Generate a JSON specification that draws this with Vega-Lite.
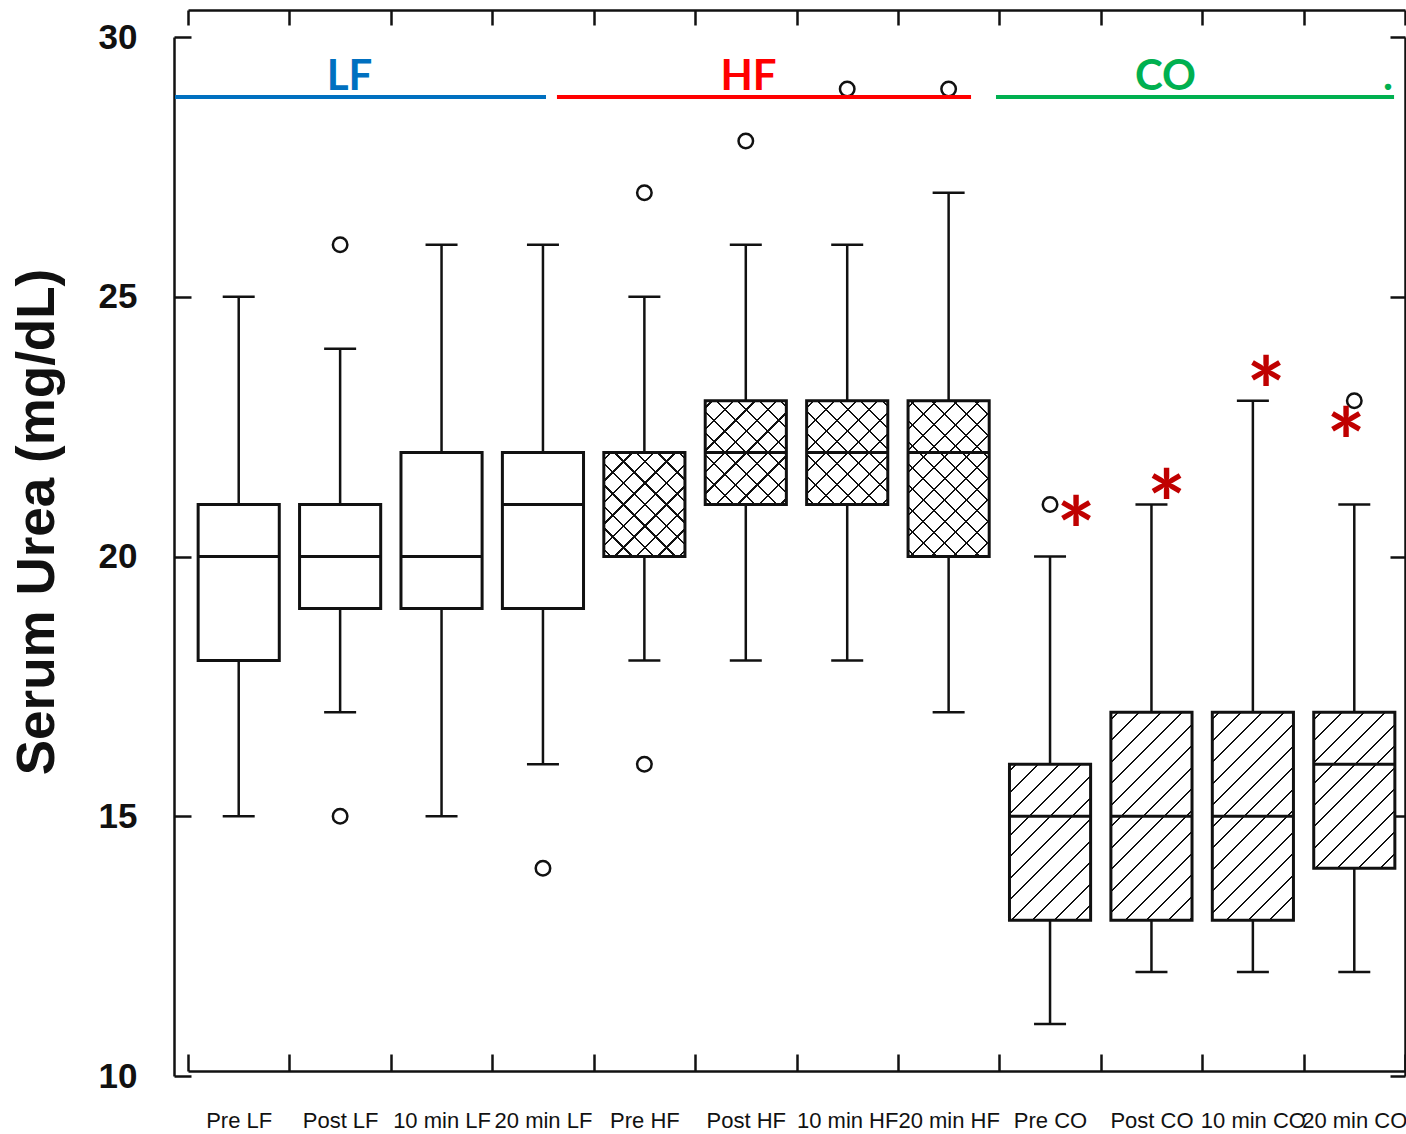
{
  "$schema": "https://vega.github.io/schema/vega-lite/v6.json",
  "width": 1217,
  "height": 1039,
  "autosize": "none",
  "padding": {"left": 188, "top": 37, "right": 1, "bottom": 58},
  "background": "white",
  "config": {
    "view": {"stroke": null},
    "axis": {
      "grid": false,
      "domainColor": "#111111",
      "tickColor": "#111111",
      "domainWidth": 2.5,
      "tickWidth": 2.5,
      "labelFont": "Liberation Sans",
      "titleFont": "Liberation Sans"
    }
  },
  "datasets": {
    "boxes": [
      {"cond": "Pre LF", "set": "LF", "low": 15, "q1": 18, "median": 20, "q3": 21, "high": 25},
      {"cond": "Post LF", "set": "LF", "low": 17, "q1": 19, "median": 20, "q3": 21, "high": 24},
      {"cond": "10 min LF", "set": "LF", "low": 15, "q1": 19, "median": 20, "q3": 22, "high": 26},
      {"cond": "20 min LF", "set": "LF", "low": 16, "q1": 19, "median": 21, "q3": 22, "high": 26},
      {"cond": "Pre HF", "set": "HF", "low": 18, "q1": 20, "median": 22, "q3": 22, "high": 25},
      {"cond": "Post HF", "set": "HF", "low": 18, "q1": 21, "median": 22, "q3": 23, "high": 26},
      {"cond": "10 min HF", "set": "HF", "low": 18, "q1": 21, "median": 22, "q3": 23, "high": 26},
      {"cond": "20 min HF", "set": "HF", "low": 17, "q1": 20, "median": 22, "q3": 23, "high": 27},
      {"cond": "Pre CO", "set": "CO", "low": 11, "q1": 13, "median": 15, "q3": 16, "high": 20},
      {"cond": "Post CO", "set": "CO", "low": 12, "q1": 13, "median": 15, "q3": 17, "high": 21},
      {"cond": "10 min CO", "set": "CO", "low": 12, "q1": 13, "median": 15, "q3": 17, "high": 23},
      {"cond": "20 min CO", "set": "CO", "low": 12, "q1": 14, "median": 16, "q3": 17, "high": 21}
    ],
    "outliers": [
      {"cond": "Post LF", "value": 26},
      {"cond": "Post LF", "value": 15},
      {"cond": "20 min LF", "value": 14},
      {"cond": "Pre HF", "value": 27},
      {"cond": "Pre HF", "value": 16},
      {"cond": "Post HF", "value": 28},
      {"cond": "10 min HF", "value": 29},
      {"cond": "20 min HF", "value": 29},
      {"cond": "Pre CO", "value": 21},
      {"cond": "20 min CO", "value": 23}
    ],
    "spans": [
      {"set": "LF", "from": -0.128, "to": 3.53, "at": 28.845},
      {"set": "HF", "from": 3.638, "to": 7.721, "at": 28.845},
      {"set": "CO", "from": 7.967, "to": 11.892, "at": 28.845}
    ],
    "tags": [
      {"set": "LF", "text": "LF", "pos": 1.592, "at": 28.98},
      {"set": "HF", "text": "HF", "pos": 5.527, "at": 28.98},
      {"set": "CO", "text": "CO", "pos": 9.638, "at": 28.98},
      {"set": "CO", "text": ".", "pos": 11.832, "at": 28.98}
    ],
    "stars": [
      {"cond": "Pre CO", "sig": "*", "pos": 8.756, "at": 20.862},
      {"cond": "Post CO", "sig": "*", "pos": 9.65, "at": 21.382},
      {"cond": "10 min CO", "sig": "*", "pos": 10.629, "at": 23.542},
      {"cond": "20 min CO", "sig": "*", "pos": 11.418, "at": 22.57}
    ]
  },
  "layer": [
    {
      "encoding": {
        "x": {
          "field": "cond", "type": "nominal", "sort": null,
          "scale": {"domain": ["Pre LF", "Post LF", "10 min LF", "20 min LF", "Pre HF", "Post HF", "10 min HF", "20 min HF", "Pre CO", "Post CO", "10 min CO", "20 min CO"], "paddingInner": 0, "paddingOuter": 0},
          "axis": null
        }
      },
      "layer": [
        {
          "data": {"name": "boxes"},
          "mark": {"type": "rule", "color": "#111111", "strokeWidth": 2.5, "opacity": 1},
          "encoding": {
            "x": {
              "field": "cond", "type": "nominal", "sort": null,
              "scale": {"domain": ["Pre LF", "Post LF", "10 min LF", "20 min LF", "Pre HF", "Post HF", "10 min HF", "20 min HF", "Pre CO", "Post CO", "10 min CO", "20 min CO"], "paddingInner": 0, "paddingOuter": 0},
              "axis": {
                "orient": "bottom", "offset": -5, "tickBand": "extent", "tickSize": -17,
                "labelPadding": 56, "labelFontSize": 22, "labelColor": "#111111", "labelAngle": 0,
                "labelOverlap": false, "labelBound": false, "labelLimit": 0, "title": null
              }
            },
            "y": {
              "field": "low", "type": "quantitative",
              "scale": {"domain": [10, 30], "nice": false, "zero": false},
              "axis": {
                "orient": "left", "offset": 14, "values": [10, 15, 20, 25, 30], "tickSize": -17,
                "labelPadding": 54, "labelFontSize": 35, "labelFontWeight": "bold", "labelColor": "#111111",
                "labelBaseline": "middle",
                "title": "Serum Urea (mg/dL)", "titleFontSize": 53, "titleFontWeight": "bold", "titleColor": "#111111",
                "titleAngle": -90, "titleAlign": "center", "titleBaseline": "bottom",
                "titleX": -110, "titleY": 484.5
              }
            },
            "y2": {"field": "high"}
          }
        },
        {
          "data": {"name": "boxes"},
          "mark": {"type": "bar", "width": {"band": 0.8}, "fill": "white", "strokeWidth": 0, "opacity": 1},
          "encoding": {
            "y": {"field": "q1", "type": "quantitative", "axis": null},
            "y2": {"field": "q3"}
          }
        },
        {
          "data": {"name": "boxes"},
          "transform": [{"filter": "datum.set != 'LF'"}],
          "mark": {"type": "bar", "width": {"band": 0.8}, "strokeWidth": 0, "opacity": 1},
          "encoding": {
            "y": {"field": "q1", "type": "quantitative", "axis": null},
            "y2": {"field": "q3"},
            "fill": {
              "condition": [
                {"test": "datum.q3 - datum.q1 == 2", "value": {"gradient": "linear", "x1": 0, "y1": 0, "x2": 0.8639, "y2": 1.1063, "stops": [
                  {"offset": 0.0324, "color": "rgba(17,17,17,0)"}, {"offset": 0.0324, "color": "#111111"}, {"offset": 0.0443, "color": "#111111"}, {"offset": 0.0443, "color": "rgba(17,17,17,0)"},
                  {"offset": 0.1486, "color": "rgba(17,17,17,0)"}, {"offset": 0.1486, "color": "#111111"}, {"offset": 0.1605, "color": "#111111"}, {"offset": 0.1605, "color": "rgba(17,17,17,0)"},
                  {"offset": 0.2648, "color": "rgba(17,17,17,0)"}, {"offset": 0.2648, "color": "#111111"}, {"offset": 0.2767, "color": "#111111"}, {"offset": 0.2767, "color": "rgba(17,17,17,0)"},
                  {"offset": 0.3810, "color": "rgba(17,17,17,0)"}, {"offset": 0.3810, "color": "#111111"}, {"offset": 0.3929, "color": "#111111"}, {"offset": 0.3929, "color": "rgba(17,17,17,0)"},
                  {"offset": 0.4972, "color": "rgba(17,17,17,0)"}, {"offset": 0.4972, "color": "#111111"}, {"offset": 0.5091, "color": "#111111"}, {"offset": 0.5091, "color": "rgba(17,17,17,0)"},
                  {"offset": 0.6134, "color": "rgba(17,17,17,0)"}, {"offset": 0.6134, "color": "#111111"}, {"offset": 0.6253, "color": "#111111"}, {"offset": 0.6253, "color": "rgba(17,17,17,0)"},
                  {"offset": 0.7296, "color": "rgba(17,17,17,0)"}, {"offset": 0.7296, "color": "#111111"}, {"offset": 0.7415, "color": "#111111"}, {"offset": 0.7415, "color": "rgba(17,17,17,0)"},
                  {"offset": 0.8458, "color": "rgba(17,17,17,0)"}, {"offset": 0.8458, "color": "#111111"}, {"offset": 0.8577, "color": "#111111"}, {"offset": 0.8577, "color": "rgba(17,17,17,0)"},
                  {"offset": 0.9620, "color": "rgba(17,17,17,0)"}, {"offset": 0.9620, "color": "#111111"}, {"offset": 0.9739, "color": "#111111"}, {"offset": 0.9739, "color": "rgba(17,17,17,0)"}
                ]}},
                {"test": "datum.q3 - datum.q1 == 3", "value": {"gradient": "linear", "x1": 0, "y1": 0, "x2": 0.6228, "y2": 1.1964, "stops": [
                  {"offset": 0.0253, "color": "rgba(17,17,17,0)"}, {"offset": 0.0253, "color": "#111111"}, {"offset": 0.0346, "color": "#111111"}, {"offset": 0.0346, "color": "rgba(17,17,17,0)"},
                  {"offset": 0.1160, "color": "rgba(17,17,17,0)"}, {"offset": 0.1160, "color": "#111111"}, {"offset": 0.1253, "color": "#111111"}, {"offset": 0.1253, "color": "rgba(17,17,17,0)"},
                  {"offset": 0.2068, "color": "rgba(17,17,17,0)"}, {"offset": 0.2068, "color": "#111111"}, {"offset": 0.2161, "color": "#111111"}, {"offset": 0.2161, "color": "rgba(17,17,17,0)"},
                  {"offset": 0.2975, "color": "rgba(17,17,17,0)"}, {"offset": 0.2975, "color": "#111111"}, {"offset": 0.3068, "color": "#111111"}, {"offset": 0.3068, "color": "rgba(17,17,17,0)"},
                  {"offset": 0.3882, "color": "rgba(17,17,17,0)"}, {"offset": 0.3882, "color": "#111111"}, {"offset": 0.3975, "color": "#111111"}, {"offset": 0.3975, "color": "rgba(17,17,17,0)"},
                  {"offset": 0.4789, "color": "rgba(17,17,17,0)"}, {"offset": 0.4789, "color": "#111111"}, {"offset": 0.4882, "color": "#111111"}, {"offset": 0.4882, "color": "rgba(17,17,17,0)"},
                  {"offset": 0.5697, "color": "rgba(17,17,17,0)"}, {"offset": 0.5697, "color": "#111111"}, {"offset": 0.5790, "color": "#111111"}, {"offset": 0.5790, "color": "rgba(17,17,17,0)"},
                  {"offset": 0.6604, "color": "rgba(17,17,17,0)"}, {"offset": 0.6604, "color": "#111111"}, {"offset": 0.6697, "color": "#111111"}, {"offset": 0.6697, "color": "rgba(17,17,17,0)"},
                  {"offset": 0.7511, "color": "rgba(17,17,17,0)"}, {"offset": 0.7511, "color": "#111111"}, {"offset": 0.7604, "color": "#111111"}, {"offset": 0.7604, "color": "rgba(17,17,17,0)"},
                  {"offset": 0.8418, "color": "rgba(17,17,17,0)"}, {"offset": 0.8418, "color": "#111111"}, {"offset": 0.8511, "color": "#111111"}, {"offset": 0.8511, "color": "rgba(17,17,17,0)"},
                  {"offset": 0.9326, "color": "rgba(17,17,17,0)"}, {"offset": 0.9326, "color": "#111111"}, {"offset": 0.9419, "color": "#111111"}, {"offset": 0.9419, "color": "rgba(17,17,17,0)"}
                ]}}
              ],
              "value": {"gradient": "linear", "x1": 0, "y1": 0, "x2": 0.4711, "y2": 1.2065, "stops": [
                {"offset": 0.0208, "color": "rgba(17,17,17,0)"}, {"offset": 0.0208, "color": "#111111"}, {"offset": 0.0284, "color": "#111111"}, {"offset": 0.0284, "color": "rgba(17,17,17,0)"},
                {"offset": 0.0952, "color": "rgba(17,17,17,0)"}, {"offset": 0.0952, "color": "#111111"}, {"offset": 0.1028, "color": "#111111"}, {"offset": 0.1028, "color": "rgba(17,17,17,0)"},
                {"offset": 0.1696, "color": "rgba(17,17,17,0)"}, {"offset": 0.1696, "color": "#111111"}, {"offset": 0.1772, "color": "#111111"}, {"offset": 0.1772, "color": "rgba(17,17,17,0)"},
                {"offset": 0.2440, "color": "rgba(17,17,17,0)"}, {"offset": 0.2440, "color": "#111111"}, {"offset": 0.2516, "color": "#111111"}, {"offset": 0.2516, "color": "rgba(17,17,17,0)"},
                {"offset": 0.3184, "color": "rgba(17,17,17,0)"}, {"offset": 0.3184, "color": "#111111"}, {"offset": 0.3260, "color": "#111111"}, {"offset": 0.3260, "color": "rgba(17,17,17,0)"},
                {"offset": 0.3928, "color": "rgba(17,17,17,0)"}, {"offset": 0.3928, "color": "#111111"}, {"offset": 0.4004, "color": "#111111"}, {"offset": 0.4004, "color": "rgba(17,17,17,0)"},
                {"offset": 0.4672, "color": "rgba(17,17,17,0)"}, {"offset": 0.4672, "color": "#111111"}, {"offset": 0.4748, "color": "#111111"}, {"offset": 0.4748, "color": "rgba(17,17,17,0)"},
                {"offset": 0.5417, "color": "rgba(17,17,17,0)"}, {"offset": 0.5417, "color": "#111111"}, {"offset": 0.5493, "color": "#111111"}, {"offset": 0.5493, "color": "rgba(17,17,17,0)"},
                {"offset": 0.6161, "color": "rgba(17,17,17,0)"}, {"offset": 0.6161, "color": "#111111"}, {"offset": 0.6237, "color": "#111111"}, {"offset": 0.6237, "color": "rgba(17,17,17,0)"},
                {"offset": 0.6905, "color": "rgba(17,17,17,0)"}, {"offset": 0.6905, "color": "#111111"}, {"offset": 0.6981, "color": "#111111"}, {"offset": 0.6981, "color": "rgba(17,17,17,0)"},
                {"offset": 0.7649, "color": "rgba(17,17,17,0)"}, {"offset": 0.7649, "color": "#111111"}, {"offset": 0.7725, "color": "#111111"}, {"offset": 0.7725, "color": "rgba(17,17,17,0)"},
                {"offset": 0.8393, "color": "rgba(17,17,17,0)"}, {"offset": 0.8393, "color": "#111111"}, {"offset": 0.8469, "color": "#111111"}, {"offset": 0.8469, "color": "rgba(17,17,17,0)"},
                {"offset": 0.9137, "color": "rgba(17,17,17,0)"}, {"offset": 0.9137, "color": "#111111"}, {"offset": 0.9213, "color": "#111111"}, {"offset": 0.9213, "color": "rgba(17,17,17,0)"},
                {"offset": 0.9881, "color": "rgba(17,17,17,0)"}, {"offset": 0.9881, "color": "#111111"}, {"offset": 0.9957, "color": "#111111"}, {"offset": 0.9957, "color": "rgba(17,17,17,0)"}
              ]}
            }
          }
        },
        {
          "data": {"name": "boxes"},
          "transform": [{"filter": "datum.set == 'HF'"}],
          "mark": {"type": "bar", "width": {"band": 0.8}, "strokeWidth": 0, "opacity": 1},
          "encoding": {
            "y": {"field": "q1", "type": "quantitative", "axis": null},
            "y2": {"field": "q3"},
            "fill": {
              "condition": [
                {"test": "datum.q3 - datum.q1 == 2", "value": {"gradient": "linear", "x1": 0, "y1": 1, "x2": 0.8639, "y2": -0.1063, "stops": [
                  {"offset": 0.0324, "color": "rgba(17,17,17,0)"}, {"offset": 0.0324, "color": "#111111"}, {"offset": 0.0443, "color": "#111111"}, {"offset": 0.0443, "color": "rgba(17,17,17,0)"},
                  {"offset": 0.1486, "color": "rgba(17,17,17,0)"}, {"offset": 0.1486, "color": "#111111"}, {"offset": 0.1605, "color": "#111111"}, {"offset": 0.1605, "color": "rgba(17,17,17,0)"},
                  {"offset": 0.2648, "color": "rgba(17,17,17,0)"}, {"offset": 0.2648, "color": "#111111"}, {"offset": 0.2767, "color": "#111111"}, {"offset": 0.2767, "color": "rgba(17,17,17,0)"},
                  {"offset": 0.3810, "color": "rgba(17,17,17,0)"}, {"offset": 0.3810, "color": "#111111"}, {"offset": 0.3929, "color": "#111111"}, {"offset": 0.3929, "color": "rgba(17,17,17,0)"},
                  {"offset": 0.4972, "color": "rgba(17,17,17,0)"}, {"offset": 0.4972, "color": "#111111"}, {"offset": 0.5091, "color": "#111111"}, {"offset": 0.5091, "color": "rgba(17,17,17,0)"},
                  {"offset": 0.6134, "color": "rgba(17,17,17,0)"}, {"offset": 0.6134, "color": "#111111"}, {"offset": 0.6253, "color": "#111111"}, {"offset": 0.6253, "color": "rgba(17,17,17,0)"},
                  {"offset": 0.7296, "color": "rgba(17,17,17,0)"}, {"offset": 0.7296, "color": "#111111"}, {"offset": 0.7415, "color": "#111111"}, {"offset": 0.7415, "color": "rgba(17,17,17,0)"},
                  {"offset": 0.8458, "color": "rgba(17,17,17,0)"}, {"offset": 0.8458, "color": "#111111"}, {"offset": 0.8577, "color": "#111111"}, {"offset": 0.8577, "color": "rgba(17,17,17,0)"},
                  {"offset": 0.9620, "color": "rgba(17,17,17,0)"}, {"offset": 0.9620, "color": "#111111"}, {"offset": 0.9739, "color": "#111111"}, {"offset": 0.9739, "color": "rgba(17,17,17,0)"}
                ]}}
              ],
              "value": {"gradient": "linear", "x1": 0, "y1": 1, "x2": 0.6228, "y2": -0.1964, "stops": [
                {"offset": 0.0253, "color": "rgba(17,17,17,0)"}, {"offset": 0.0253, "color": "#111111"}, {"offset": 0.0346, "color": "#111111"}, {"offset": 0.0346, "color": "rgba(17,17,17,0)"},
                {"offset": 0.1160, "color": "rgba(17,17,17,0)"}, {"offset": 0.1160, "color": "#111111"}, {"offset": 0.1253, "color": "#111111"}, {"offset": 0.1253, "color": "rgba(17,17,17,0)"},
                {"offset": 0.2068, "color": "rgba(17,17,17,0)"}, {"offset": 0.2068, "color": "#111111"}, {"offset": 0.2161, "color": "#111111"}, {"offset": 0.2161, "color": "rgba(17,17,17,0)"},
                {"offset": 0.2975, "color": "rgba(17,17,17,0)"}, {"offset": 0.2975, "color": "#111111"}, {"offset": 0.3068, "color": "#111111"}, {"offset": 0.3068, "color": "rgba(17,17,17,0)"},
                {"offset": 0.3882, "color": "rgba(17,17,17,0)"}, {"offset": 0.3882, "color": "#111111"}, {"offset": 0.3975, "color": "#111111"}, {"offset": 0.3975, "color": "rgba(17,17,17,0)"},
                {"offset": 0.4789, "color": "rgba(17,17,17,0)"}, {"offset": 0.4789, "color": "#111111"}, {"offset": 0.4882, "color": "#111111"}, {"offset": 0.4882, "color": "rgba(17,17,17,0)"},
                {"offset": 0.5697, "color": "rgba(17,17,17,0)"}, {"offset": 0.5697, "color": "#111111"}, {"offset": 0.5790, "color": "#111111"}, {"offset": 0.5790, "color": "rgba(17,17,17,0)"},
                {"offset": 0.6604, "color": "rgba(17,17,17,0)"}, {"offset": 0.6604, "color": "#111111"}, {"offset": 0.6697, "color": "#111111"}, {"offset": 0.6697, "color": "rgba(17,17,17,0)"},
                {"offset": 0.7511, "color": "rgba(17,17,17,0)"}, {"offset": 0.7511, "color": "#111111"}, {"offset": 0.7604, "color": "#111111"}, {"offset": 0.7604, "color": "rgba(17,17,17,0)"},
                {"offset": 0.8418, "color": "rgba(17,17,17,0)"}, {"offset": 0.8418, "color": "#111111"}, {"offset": 0.8511, "color": "#111111"}, {"offset": 0.8511, "color": "rgba(17,17,17,0)"},
                {"offset": 0.9326, "color": "rgba(17,17,17,0)"}, {"offset": 0.9326, "color": "#111111"}, {"offset": 0.9419, "color": "#111111"}, {"offset": 0.9419, "color": "rgba(17,17,17,0)"}
              ]}
            }
          }
        },
        {
          "data": {"name": "boxes"},
          "mark": {"type": "bar", "width": {"band": 0.8}, "fill": "transparent", "stroke": "#111111", "strokeWidth": 3, "opacity": 1},
          "encoding": {
            "y": {"field": "q1", "type": "quantitative", "axis": null},
            "y2": {"field": "q3"}
          }
        },
        {
          "data": {"name": "boxes"},
          "mark": {"type": "tick", "color": "#111111", "thickness": 3, "size": 81, "opacity": 1},
          "encoding": {
            "y": {"field": "median", "type": "quantitative", "axis": null}
          }
        },
        {
          "data": {"name": "boxes"},
          "mark": {"type": "tick", "color": "#111111", "thickness": 2.5, "size": 32, "opacity": 1},
          "encoding": {
            "y": {"field": "low", "type": "quantitative", "axis": null}
          }
        },
        {
          "data": {"name": "boxes"},
          "mark": {"type": "tick", "color": "#111111", "thickness": 2.5, "size": 32, "opacity": 1},
          "encoding": {
            "x": {
              "field": "cond", "type": "nominal", "sort": null,
              "scale": {"domain": ["Pre LF", "Post LF", "10 min LF", "20 min LF", "Pre HF", "Post HF", "10 min HF", "20 min HF", "Pre CO", "Post CO", "10 min CO", "20 min CO"], "paddingInner": 0, "paddingOuter": 0},
              "axis": {"orient": "top", "offset": 27, "tickBand": "extent", "tickSize": -15, "labels": false, "title": null}
            },
            "y": {
              "field": "high", "type": "quantitative",
              "axis": {"orient": "right", "offset": 0, "values": [10, 15, 20, 25, 30], "tickSize": -15, "labels": false, "title": null}
            }
          }
        },
        {
          "data": {"name": "outliers"},
          "mark": {"type": "point", "shape": "circle", "size": 210, "filled": true, "fill": "white", "stroke": "#111111", "strokeWidth": 2.5, "opacity": 1},
          "encoding": {
            "y": {"field": "value", "type": "quantitative", "axis": null}
          }
        }
      ],
      "resolve": {"axis": {"x": "independent", "y": "independent"}}
    },
    {
      "layer": [
        {
          "data": {"name": "spans"},
          "mark": {"type": "rule", "strokeWidth": 4, "opacity": 1},
          "encoding": {
            "x": {"field": "from", "type": "quantitative", "scale": {"domain": [0, 12], "nice": false, "zero": false}, "axis": null},
            "x2": {"field": "to"},
            "y": {"field": "at", "type": "quantitative", "scale": {"domain": [10, 30], "nice": false, "zero": false}, "axis": null},
            "color": {"field": "set", "type": "nominal", "scale": {"domain": ["LF", "HF", "CO"], "range": ["#0070C0", "#FF0000", "#00B050"]}, "legend": null}
          }
        },
        {
          "data": {"name": "tags"},
          "mark": {"type": "text", "font": "Lato", "fontWeight": "bold", "fontSize": 42, "align": "center", "baseline": "alphabetic", "opacity": 1},
          "encoding": {
            "x": {"field": "pos", "type": "quantitative", "axis": null},
            "y": {"field": "at", "type": "quantitative", "axis": null},
            "text": {"field": "text"},
            "color": {"field": "set", "type": "nominal", "legend": null}
          }
        },
        {
          "data": {"name": "stars"},
          "mark": {"type": "text", "font": "Lato", "fontWeight": "bold", "fontSize": 92, "align": "center", "baseline": "middle", "dy": 25, "color": "#C00000", "opacity": 1},
          "encoding": {
            "x": {"field": "pos", "type": "quantitative", "axis": null},
            "y": {"field": "at", "type": "quantitative", "axis": null},
            "text": {"field": "sig"}
          }
        }
      ]
    }
  ],
  "resolve": {"scale": {"x": "independent"}, "axis": {"x": "independent", "y": "independent"}}
}
